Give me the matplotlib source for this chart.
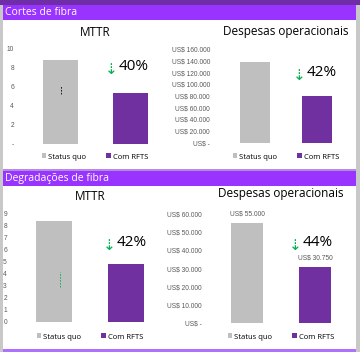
import matplotlib
matplotlib.use("Agg")
import matplotlib.pyplot as plt
from matplotlib.patches import Rectangle

# data
categories = ["Status quo", "Com RFTS"]
cortes_mttr = [8.8, 5.3]
cortes_opex = [138000, 80000]
degr_mttr = [8.3, 4.8]
degr_opex = [55000, 30750]

cortes_mttr_ticks = [0, 2, 4, 6, 8, 10]
cortes_opex_ticks = [0, 20000, 40000, 60000, 80000, 100000, 120000, 140000, 160000]
degr_mttr_ticks = [0, 1, 2, 3, 4, 5, 6, 7, 8, 9]
degr_opex_ticks = [0, 10000, 20000, 30000, 40000, 50000, 60000]

section_titles = ["Cortes de fibra", "Degradações de fibra"]

GREY = "#bfbfbf"
PURPLE = "#7030a0"
BRIGHT = "#9933ff"
DARK = "#6f2da8"
GREEN = "#00b050"
TICK = "#595959"

W, H = 360, 352
fig = plt.figure(figsize=(W / 100, H / 100), dpi=100)
fig.patch.set_facecolor("white")


def px_rect(x0, y0, x1, y1, color):
    fig.patches.append(Rectangle((x0 / W, 1 - y1 / H), (x1 - x0) / W, (y1 - y0) / H,
                                 transform=fig.transFigure, color=color, zorder=0, lw=0))


def px_axes(x0, y0, x1, y1):
    return fig.add_axes([x0 / W, 1 - y1 / H, (x1 - x0) / W, (y1 - y0) / H])


def usd(v):
    if v == 0:
        return "US$ -"
    return "US$ " + f"{v:,.0f}".replace(",", ".")


# frame and headers
px_rect(0, 0, 360, 5, DARK)
px_rect(0, 5, 3, 352, "#c8c8c8")
px_rect(356, 5, 360, 352, "#c8c8c8")
px_rect(3, 5, 356, 20, BRIGHT)
px_rect(3, 169, 356, 171, "#b58ae0")
px_rect(3, 171, 356, 186, BRIGHT)
px_rect(3, 349, 356, 352, "#b070ff")
fig.text(5 / W, 1 - 12.5 / H, section_titles[0], color="white", fontsize=7.5,
         family="Open Sans", va="center", ha="left")
fig.text(5 / W, 1 - 178.5 / H, section_titles[1], color="white", fontsize=7.5,
         family="Open Sans", va="center", ha="left")


def bar_chart(box, values, ticks, labels, width, title, title_y, legend_y, pct_pos, pad):
    ax = px_axes(*box)
    x = [0, 1]
    bars = ax.bar(x, values, width=width, color=[GREY, PURPLE], zorder=2)
    ax.set_xlim(-0.5, 1.5)
    ax.set_ylim(0, ticks[-1])
    ax.set_yticks(ticks)
    ax.set_yticklabels(labels, fontsize=4.8, color=TICK, family="Liberation Sans")
    ax.tick_params(axis="y", length=0, pad=pad)
    ax.set_xticks([])
    for s in ax.spines.values():
        s.set_visible(False)
    ax.set_facecolor("none")
    x0, y0, x1, y1 = box
    fig.text((x0 + x1) / 2 / W, 1 - title_y / H, title, fontsize=8.5, family="Open Sans",
             ha="center", va="center")
    ax.legend(bars, categories, loc="center", bbox_to_anchor=(0.5, 1 - (legend_y - y0) / (y1 - y0)),
              ncol=2, frameon=False, handlelength=0.6, handleheight=0.6,
              handletextpad=0.3, columnspacing=2.6, prop={"family": "Open Sans", "size": 5.5})
    pct = round((1 - values[1] / values[0]) * 100)
    px, py = pct_pos
    fig.text((px - 8) / W, 1 - py / H, "⇣", color=GREEN, fontsize=11, family="DejaVu Sans",
             ha="center", va="center")
    fig.text(px / W, 1 - (py - 3) / H, f"{pct}%", fontsize=11, family="Open Sans",
             ha="left", va="center")
    return ax


ax1 = bar_chart((25, 48, 165, 144), cortes_mttr, cortes_mttr_ticks,
                ["-"] + [str(t) for t in cortes_mttr_ticks[1:]], 0.5, "MTTR", 32, 157, (119, 69), 8)
ax1.plot([0.02, 0.02], [5.2, 6.0], color="black", lw=0.6, ls=(0, (2, 1.5)), zorder=3)

ax2 = bar_chart((224, 49, 348, 143), cortes_opex, cortes_opex_ticks,
                [usd(t) for t in cortes_opex_ticks], 0.48, "Despesas operacionais", 32, 157, (307, 75), 10)

ax3 = bar_chart((18, 213, 162, 322), degr_mttr, degr_mttr_ticks,
                [str(t) for t in degr_mttr_ticks], 0.49, "MTTR", 197, 337, (117, 245), 8)
ax3.plot([0.09, 0.09], [2.9, 4.1], color=GREEN, lw=0.6, ls=(0, (2, 1.5)), zorder=3)

ax4 = bar_chart((213, 214, 349, 323), degr_opex, degr_opex_ticks,
                [usd(t) for t in degr_opex_ticks], 0.47, "Despesas operacionais", 193, 337, (303, 245), 8)
for xi, v in enumerate(degr_opex):
    ax4.annotate(usd(v), (xi, v), xytext=(0, 4), textcoords="offset points", ha="center",
                 va="bottom", fontsize=4.8, color=TICK, family="Liberation Sans")

fig.savefig("out.png", dpi=100, facecolor=fig.get_facecolor())
